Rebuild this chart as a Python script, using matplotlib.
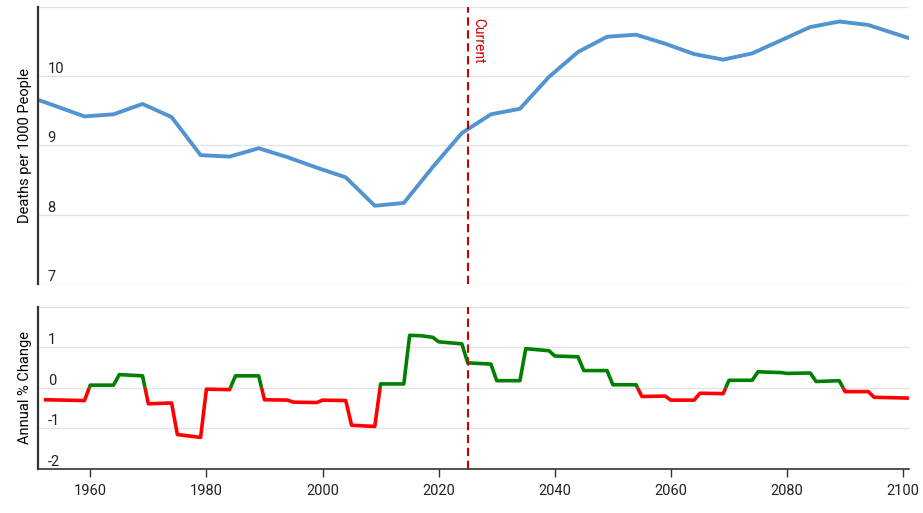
import matplotlib
matplotlib.use("Agg")
import matplotlib.pyplot as plt

# death rate, per 1000 people (knots)
rate_years = [1951, 1959, 1964, 1969, 1974, 1979, 1984, 1989, 1994, 1999,
              2004, 2009, 2014, 2019, 2024, 2029, 2034, 2039, 2044, 2049,
              2054, 2059, 2064, 2069, 2074, 2079, 2084, 2089, 2094, 2101]
rate_values = [9.66, 9.42, 9.45, 9.60, 9.41, 8.86, 8.84, 8.96, 8.83, 8.68,
               8.54, 8.13, 8.17, 8.69, 9.18, 9.45, 9.53, 9.99, 10.35, 10.57,
               10.60, 10.47, 10.32, 10.24, 10.33, 10.52, 10.71, 10.79, 10.74, 10.55]

# annual % change (start/end of each block)
chg_years = [1952, 1959, 1960, 1964, 1965, 1969, 1970, 1974, 1975, 1979,
             1980, 1984, 1985, 1989, 1990, 1994, 1995, 1999, 2000, 2004,
             2005, 2009, 2010, 2014, 2015, 2017, 2019, 2020, 2024, 2025,
             2029, 2030, 2034, 2035, 2039, 2040, 2044, 2045, 2049, 2050,
             2054, 2055, 2059, 2060, 2064, 2065, 2069, 2070, 2074, 2075,
             2079, 2080, 2084, 2085, 2089, 2090, 2094, 2095, 2101]
chg_values = [-0.29, -0.31, 0.07, 0.07, 0.33, 0.30, -0.39, -0.37, -1.15, -1.22,
              -0.03, -0.04, 0.30, 0.30, -0.29, -0.30, -0.35, -0.36, -0.30, -0.31,
              -0.92, -0.95, 0.10, 0.10, 1.30, 1.29, 1.25, 1.14, 1.09, 0.62,
              0.59, 0.18, 0.18, 0.97, 0.92, 0.79, 0.77, 0.43, 0.43, 0.08,
              0.08, -0.21, -0.20, -0.30, -0.30, -0.13, -0.14, 0.19, 0.19, 0.40,
              0.38, 0.36, 0.37, 0.16, 0.18, -0.09, -0.09, -0.23, -0.25]

current_year = 2025
x_ticks = [1960, 1980, 2000, 2020, 2040, 2060, 2080, 2100]


def split_by_sign(xs, ys):
    # break the polyline where it crosses zero so each piece has one colour
    pieces = []
    cur_x, cur_y = [xs[0]], [ys[0]]
    for i in range(1, len(xs)):
        x0, y0, x1, y1 = xs[i - 1], ys[i - 1], xs[i], ys[i]
        if (y0 >= 0) != (y1 >= 0):
            xc = x0 + (0 - y0) * (x1 - x0) / (y1 - y0)
            cur_x.append(xc)
            cur_y.append(0)
            pieces.append((cur_x, cur_y, y0 >= 0))
            cur_x, cur_y = [xc], [0]
        cur_x.append(x1)
        cur_y.append(y1)
    pieces.append((cur_x, cur_y, cur_y[-1] >= 0))
    return pieces


def style_axis(ax, yticks, ylim):
    ax.set_xlim(1951, 2101)
    ax.set_ylim(*ylim)
    ax.set_yticks(yticks)
    ax.grid(axis="y", color="#e3e3e3", linewidth=1)
    ax.set_axisbelow(True)
    for s in ["top", "right"]:
        ax.spines[s].set_visible(False)
    ax.spines["left"].set_color("#333333")
    ax.spines["left"].set_linewidth(1.6)
    ax.tick_params(axis="y", length=0, pad=-7, labelsize=10.5, labelcolor="#222222")
    for lbl in ax.get_yticklabels():
        lbl.set_horizontalalignment("left")
        lbl.set_verticalalignment("bottom")


def main():
    plt.rcParams["font.family"] = ["Roboto", "DejaVu Sans"]
    fig = plt.figure(figsize=(9.23, 5.13), dpi=100)
    ax1 = fig.add_axes([0.0412, 0.4464, 0.9436, 0.5400])
    ax2 = fig.add_axes([0.0412, 0.0858, 0.9436, 0.3158])

    # top panel
    ax1.plot(rate_years, rate_values, color="#5294d0", linewidth=2.8,
             solid_joinstyle="round")
    style_axis(ax1, [7, 8, 9, 10, 11], (7, 11))
    ax1.set_yticklabels(["7", "8", "9", "10", ""])
    ax1.spines["bottom"].set_visible(False)
    ax1.set_xticks([])
    ax1.set_ylabel("Deaths per 1000 People", fontsize=10.5, labelpad=4)
    ax1.axvline(current_year, color="#cc0000", linewidth=1.5, dashes=(4, 2.2))
    ax1.annotate("Current", xy=(current_year, 1), xycoords=ax1.get_xaxis_transform(),
                 xytext=(2.5, -8), textcoords="offset points", rotation=270,
                 ha="left", va="top", color="#cc0000", fontsize=10)

    # bottom panel
    for px, py, pos in split_by_sign(chg_years, chg_values):
        ax2.plot(px, py, color="#008000" if pos else "#ff0000", linewidth=2.6,
                 solid_joinstyle="round", solid_capstyle="butt")
    style_axis(ax2, [-2, -1, 0, 1, 2], (-2, 2))
    ax2.set_yticklabels(["-2", "-1", "0", "1", ""])
    ax2.spines["bottom"].set_color("#333333")
    ax2.spines["bottom"].set_linewidth(1.2)
    ax2.set_xticks(x_ticks)
    ax2.tick_params(axis="x", length=6, width=1, color="#333333",
                    labelsize=10.5, labelcolor="#222222", pad=5)
    ax2.set_ylabel("Annual % Change", fontsize=10.5, labelpad=4)
    ax2.axvline(current_year, color="#cc0000", linewidth=1.5, dashes=(4, 2.2))

    fig.savefig("out.png", dpi=100)


if __name__ == "__main__":
    main()
